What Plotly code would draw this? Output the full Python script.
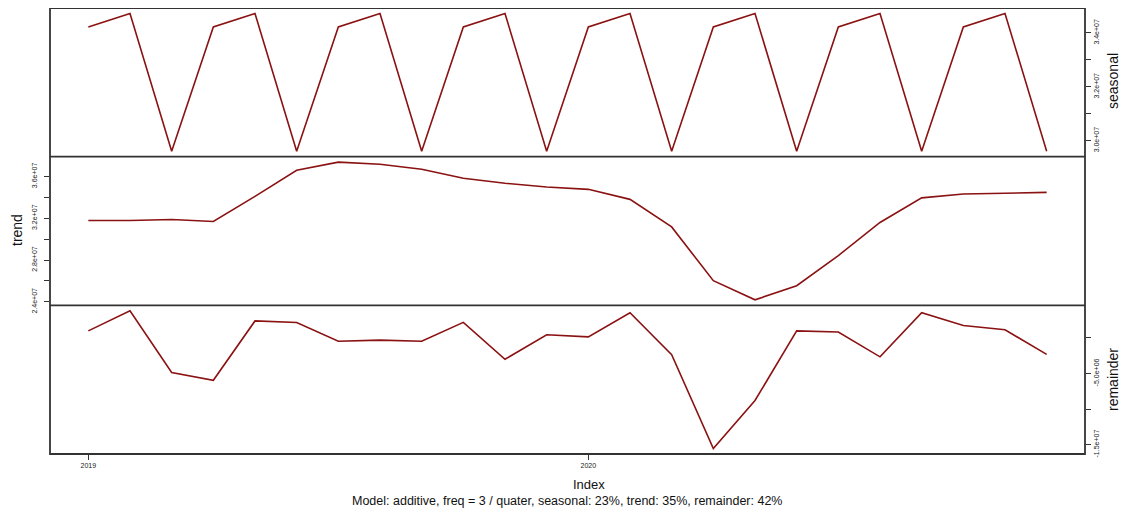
import plotly.graph_objects as go
from plotly.subplots import make_subplots

# ---- data (monthly, Jan 2019 - Dec 2020) ----
time_index = [2019 + m / 12 for m in range(24)]

seasonal = [3.422e7, 3.472e7, 2.961e7] * 8

trend = [3.179e7, 3.179e7, 3.188e7, 3.169e7, 3.410e7, 3.660e7,
         3.737e7, 3.717e7, 3.669e7, 3.583e7, 3.535e7, 3.500e7,
         3.477e7, 3.381e7, 3.117e7, 2.602e7, 2.419e7, 2.554e7,
         2.843e7, 3.160e7, 3.395e7, 3.433e7, 3.440e7, 3.448e7]

remainder = [1.00e6, 3.82e6, -4.86e6, -5.95e6, 2.40e6, 2.17e6,
             -0.45e6, -0.30e6, -0.45e6, 2.20e6, -3.00e6, 0.45e6,
             0.15e6, 3.55e6, -2.35e6, -15.55e6, -8.80e6, 1.00e6,
             0.85e6, -2.65e6, 3.55e6, 1.75e6, 1.15e6, -2.30e6]

seasonal_ticks = [3.0e7, 3.1e7, 3.2e7, 3.3e7, 3.4e7]
seasonal_labels = ["3.0e+07", "", "3.2e+07", "", "3.4e+07"]
trend_ticks = [2.4e7, 2.6e7, 2.8e7, 3.0e7, 3.2e7, 3.4e7, 3.6e7]
trend_labels = ["2.4e+07", "", "2.8e+07", "", "3.2e+07", "", "3.6e+07"]
remainder_ticks = [-1.5e7, -1.0e7, -5.0e6, 0]
remainder_labels = ["-1.5e+07", "", "-5.0e+06", ""]
x_ticks = [2019, 2020]
x_labels = ["2019", "2020"]
panel_titles = ["seasonal", "trend", "remainder"]
subtitle = "Model: additive, freq = 3 / quater, seasonal: 23%, trend: 35%, remainder: 42%"

# ---- figure ----
# the page body adds an 8px offset, so the figure is drawn 8px smaller
OFF = 8
W, H = 1127 - OFF, 513 - OFF
L, R, T, B = 50 - OFF, 42, 0, 59
FONT = "Liberation Sans, Arial, sans-serif"
LINE = "#8b1212"
FRAME = "#333333"

fig = make_subplots(rows=3, cols=1, shared_xaxes=True, vertical_spacing=0)

for i, ys in enumerate([seasonal, trend, remainder]):
    fig.add_trace(go.Scatter(x=time_index, y=ys, mode="lines",
                             line=dict(color=LINE, width=1.6),
                             showlegend=False, hoverinfo="skip"),
                  row=i + 1, col=1)


def padded(vals, f=0.04):
    lo, hi = min(vals), max(vals)
    s = hi - lo
    return [lo - f * s, hi + f * s]


xr = padded(time_index)
for r in (1, 2, 3):
    fig.update_xaxes(range=xr, showline=False, automargin=False,
                     showgrid=False, zeroline=False,
                     tickvals=x_ticks, ticktext=x_labels,
                     ticks="outside" if r == 3 else "", ticklen=5,
                     tickcolor=FRAME, tickwidth=1.2, showticklabels=(r == 3),
                     tickfont=dict(family=FONT, size=7, color="#222"),
                     row=r, col=1)

ycfg = [
    (seasonal, seasonal_ticks, seasonal_labels, "right", 0),
    (trend, trend_ticks, trend_labels, "left", 4),
    (remainder, remainder_ticks, remainder_labels, "right", 0),
]
for r, (vals, tv, tt, side, so) in enumerate(ycfg, start=1):
    fig.update_yaxes(range=padded(vals), side=side, showline=False,
                     automargin=False, showgrid=False, zeroline=False,
                     tickvals=tv, ticktext=tt, ticks="outside", ticklen=5,
                     ticklabelstandoff=so,
                     tickcolor=FRAME, tickwidth=1.2, tickangle=-90,
                     tickfont=dict(family=FONT, size=7, color="#222"),
                     row=r, col=1)

# frame: outer box and two panel dividers
fig.add_shape(type="rect", xref="paper", yref="paper", x0=0, x1=1, y0=0, y1=1,
              line=dict(color=FRAME, width=1.8), layer="above")
for yy in (1 / 3, 2 / 3):
    fig.add_shape(type="line", xref="paper", yref="paper", x0=0, x1=1,
                  y0=yy, y1=yy, line=dict(color=FRAME, width=1.8),
                  layer="above")

pw, ph = W - L - R, H - T - B


def px(x):  # x given in reference-screenshot pixels
    return (x - OFF - L) / pw


def py(y):
    return (H - B - (y - OFF)) / ph


annos = [
    dict(text=panel_titles[0], x=px(1113), y=py(81), textangle=-90, size=14),
    dict(text=panel_titles[1], x=px(17), y=py(230), textangle=-90, size=14),
    dict(text=panel_titles[2], x=px(1113), y=py(380), textangle=-90, size=14),
    dict(text="Index", x=px(589), y=py(484), textangle=0, size=13),
    dict(text=subtitle, x=px(567), y=py(501), textangle=0, size=12.5),
]
for a in annos:
    fig.add_annotation(text=a["text"], x=a["x"], y=a["y"], xref="paper",
                       yref="paper", showarrow=False, textangle=a["textangle"],
                       xanchor="center", yanchor="middle",
                       font=dict(family=FONT, size=a["size"], color="#111"))

fig.update_layout(width=W, height=H,
                  margin=dict(l=L, r=R, t=T, b=B, pad=0, autoexpand=False),
                  paper_bgcolor="white", plot_bgcolor="white",
                  font=dict(family=FONT))

fig.write_html("out.html")
